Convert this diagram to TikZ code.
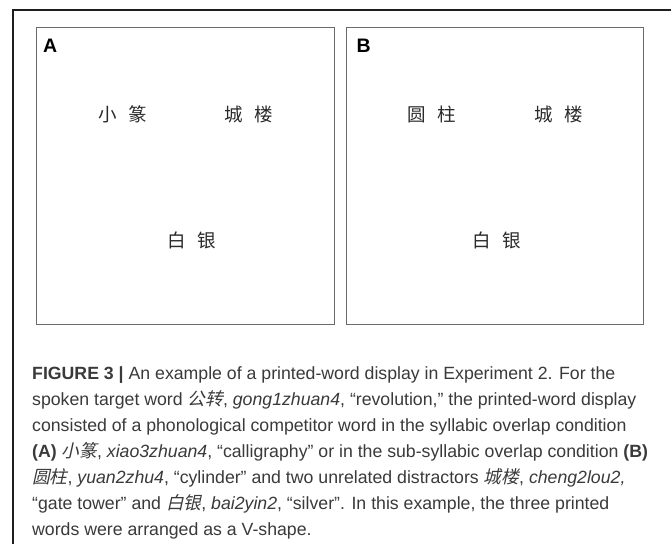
\documentclass[tikz,border=0pt]{standalone}
\usepackage{fontspec}
\setmainfont{Liberation Sans}
\newfontfamily\cjk{Noto Sans CJK SC}
\newfontfamily\cjkit[FakeSlant=0.22]{Noto Sans CJK SC}
\definecolor{captext}{HTML}{3A3A3A}
\definecolor{panelline}{HTML}{6A6A6A}
\definecolor{framecol}{HTML}{1E1E1E}
\definecolor{wordcol}{HTML}{2A2A2A}
\newcommand{\zh}[1]{{\cjkit #1}}
\tikzset{
  panelbox/.style={draw=panelline, line width=1pt},
  frameline/.style={draw=framecol, line width=1.2pt},
  panellabel/.style={font=\fontsize{19.5}{20}\selectfont\bfseries, text=black, inner sep=0pt, anchor=base west},
  chword/.style={font=\fontsize{18.5}{20}\selectfont\cjk, text=wordcol, inner sep=0pt},
  capline/.style={font=\fontsize{17.7}{24}\selectfont, text=captext, inner sep=0pt, anchor=base west}
}
\newcommand{\cw}[2]{#1\hspace{11.5pt}#2}
\begin{document}
\begin{tikzpicture}[x=1pt,y=-1pt]
\useasboundingbox (0,0) rectangle (671,544);
\fill[white] (0,0) rectangle (671,544);
% outer frame (top and left visible)
\coordinate (ftr) at (671,10);
\coordinate (ftl) at (13,10);
\coordinate (fbl) at (13,544);
\draw[frameline] (ftr) -- (ftl) -- (fbl);
% panels
\node[panelbox, minimum width=298pt, minimum height=297pt, inner sep=0pt, anchor=north west] (panA) at (36,27) {};
\node[panelbox, minimum width=297pt, minimum height=297pt, inner sep=0pt, anchor=north west] (panB) at (346,27) {};
\node[panellabel] (labA) at (43,52) {A};
\node[panellabel] (labB) at (356.5,52) {B};
% words panel A
\node[chword] (a1) at (122.5,114) {\cw{小}{篆}};
\node[chword] (a2) at (249,114) {\cw{城}{楼}};
\node[chword] (a3) at (191.5,240) {\cw{白}{银}};
% words panel B
\node[chword] (b1) at (431.5,114) {\cw{圆}{柱}};
\node[chword] (b2) at (558.5,114) {\cw{城}{楼}};
\node[chword] (b3) at (496.5,240) {\cw{白}{银}};
% caption
\node[capline] (c1) at (32,379) {\textbf{FIGURE 3 |} An example of a printed-word display in Experiment 2. For the};
\node[capline] (c2) at (32,405) {spoken target word \zh{公转}, \textit{gong1zhuan4}, “revolution,” the printed-word display};
\node[capline] (c3) at (32,431) {consisted of a phonological competitor word in the syllabic overlap condition};
\node[capline] (c4) at (32,457) {\textbf{(A)} \zh{小篆}, \textit{xiao3zhuan4}, “calligraphy” or in the sub-syllabic overlap condition \textbf{(B)}};
\node[capline] (c5) at (32,483) {\zh{圆柱}, \textit{yuan2zhu4}, “cylinder” and two unrelated distractors \zh{城楼}, \textit{cheng2lou2,}};
\node[capline] (c6) at (32,509) {“gate tower” and \zh{白银}, \textit{bai2yin2}, “silver”. In this example, the three printed};
\node[capline] (c7) at (32,535) {words were arranged as a V-shape.};
\end{tikzpicture}
\end{document}
